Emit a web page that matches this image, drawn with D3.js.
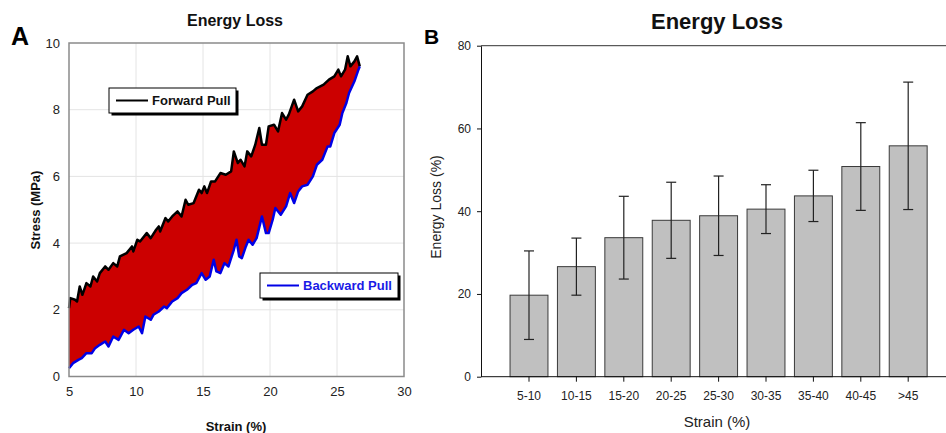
<!DOCTYPE html>
<html><head><meta charset="utf-8">
<script src="https://cdn.jsdelivr.net/npm/d3@7"></script>
<style>
html,body{margin:0;padding:0;background:#fff;}
svg{display:block;font-family:"Liberation Sans",Arial,sans-serif;}
</style></head>
<body>
<svg id="chart" width="946" height="433"></svg>
<script>
// ---------- Panel A data (strain %, stress MPa) ----------
const forwardStrain = [5.0,5.1,5.45,5.6,5.8,6.0,6.3,6.6,6.8,7.1,7.3,7.7,7.95,8.3,8.6,8.8,9.3,9.7,9.8,10.1,10.3,10.8,11.1,11.5,11.7,11.8,12.2,12.4,12.7,13.1,13.4,13.7,13.9,14.3,14.7,14.9,15.1,15.3,15.6,15.9,16.3,16.7,17.1,17.3,17.6,17.8,18.1,18.3,18.6,18.9,19.2,19.4,19.7,19.9,20.3,20.6,20.9,21.2,21.4,21.8,22.1,22.4,22.8,23.2,23.5,24.0,24.4,24.8,25.1,25.3,25.6,25.8,26.0,26.3,26.5,26.7];
const forwardStress = [2.05,2.35,2.3,2.25,2.7,2.45,2.8,2.7,3.0,2.85,3.1,3.3,3.2,3.4,3.3,3.6,3.7,3.9,3.75,4.1,4.05,4.3,4.15,4.4,4.5,4.35,4.75,4.65,4.8,4.95,4.8,5.3,5.15,5.2,5.6,5.5,5.7,5.5,5.85,5.85,6.1,6.05,6.15,6.75,6.4,6.5,6.3,6.75,6.6,6.95,7.45,6.95,6.95,7.5,7.55,7.35,7.9,7.7,7.85,8.3,7.95,8.1,8.45,8.55,8.65,8.75,8.9,9.0,9.2,9.0,9.2,9.6,9.3,9.45,9.6,9.3];
const backwardStrain = [5.0,5.3,5.7,5.95,6.3,6.7,6.95,7.3,7.7,7.95,8.3,8.7,9.1,9.45,9.8,10.2,10.45,10.7,11.1,11.3,11.7,12.1,12.3,12.7,13.1,13.4,13.8,14.2,14.5,14.9,15.2,15.5,15.8,16.0,16.3,16.6,16.9,17.3,17.5,17.7,17.9,18.2,18.4,18.7,19.0,19.4,19.7,19.9,20.2,20.4,20.8,21.2,21.5,21.8,22.1,22.4,22.8,23.2,23.5,23.9,24.3,24.5,24.8,25.2,25.4,25.7,25.9,26.3,26.6,26.7];
const backwardStress = [0.25,0.4,0.5,0.55,0.7,0.7,0.85,0.95,1.05,0.9,1.2,1.1,1.4,1.3,1.4,1.5,1.3,1.8,1.7,1.85,1.95,2.1,2.05,2.25,2.35,2.5,2.6,2.75,2.8,3.1,2.9,3.0,3.5,3.15,3.1,3.4,3.3,3.8,4.1,3.6,3.55,3.9,4.1,3.95,4.15,4.8,4.3,4.3,4.7,5.05,4.85,5.1,5.5,5.2,5.55,5.7,5.75,6.0,6.35,6.5,6.9,6.9,7.3,7.55,7.9,8.2,8.5,8.85,9.2,9.3];
const xTicksA = [5,10,15,20,25,30];
const yTicksA = [0,2,4,6,8,10];

// ---------- Panel B data ----------
const categories = ["5-10","10-15","15-20","20-25","25-30","30-35","35-40","40-45",">45"];
const energyLoss = [19.7,26.6,33.6,37.8,38.9,40.5,43.7,50.8,55.8];
const energyLossSD = [10.7,6.9,10.0,9.2,9.6,5.9,6.2,10.6,15.4];
const yTicksB = [0,20,40,60,80];

const svg = d3.select("#chart");

// ================= Panel A =================
const xA = d3.scaleLinear().domain([5,30]).range([69,404]);
const yA = d3.scaleLinear().domain([0,10]).range([376.5,43]);
const gA = svg.append("g");

// gridlines
gA.append("g").selectAll("line.gx").data(xTicksA.slice(1,-1)).join("line")
  .attr("x1",d=>xA(d)).attr("x2",d=>xA(d)).attr("y1",yA(10)).attr("y2",yA(0))
  .attr("stroke","#e4e4e4").attr("stroke-width",1);
gA.append("g").selectAll("line.gy").data(yTicksA.slice(1,-1)).join("line")
  .attr("y1",d=>yA(d)).attr("y2",d=>yA(d)).attr("x1",xA(5)).attr("x2",xA(30))
  .attr("stroke","#e4e4e4").attr("stroke-width",1);

// area fill between curves
const fwdPts = forwardStrain.map((s,i)=>[xA(s),yA(forwardStress[i])]);
const bwdPts = backwardStrain.map((s,i)=>[xA(s),yA(backwardStress[i])]);
const poly = fwdPts.concat(bwdPts.slice().reverse());
gA.append("path").attr("d", d3.line()(poly)+"Z").attr("fill","#cc0000").attr("stroke","none");
gA.append("path").attr("d", d3.line()(fwdPts)).attr("fill","none").attr("stroke","#000").attr("stroke-width",2.5).attr("stroke-linejoin","round");
gA.append("path").attr("d", d3.line()(bwdPts)).attr("fill","none").attr("stroke","#0000e6").attr("stroke-width",2.5).attr("stroke-linejoin","round");

// plot frame
gA.append("rect").attr("x",xA(5)).attr("y",yA(10)).attr("width",xA(30)-xA(5)).attr("height",yA(0)-yA(10))
  .attr("fill","none").attr("stroke","#8a8a8a").attr("stroke-width",1.5);

// axes
const axA_x = gA.append("g").attr("transform",`translate(0,${yA(0)})`)
  .call(d3.axisBottom(xA).tickValues(xTicksA).tickSize(0).tickPadding(10));
axA_x.select(".domain").remove();
axA_x.selectAll("text").attr("font-size",13).attr("fill","#222").attr("font-family","Liberation Sans, Arial, sans-serif");
const axA_y = gA.append("g").attr("transform",`translate(${xA(5)},0)`)
  .call(d3.axisLeft(yA).tickValues(yTicksA).tickSize(0).tickPadding(9));
axA_y.select(".domain").remove();
axA_y.selectAll("text").attr("font-size",13).attr("fill","#222").attr("font-family","Liberation Sans, Arial, sans-serif");

// labels
gA.append("text").attr("x",235).attr("y",26).attr("text-anchor","middle").attr("font-weight","bold").attr("font-size",16).attr("fill","#111").text("Energy Loss");
gA.append("text").attr("x",11).attr("y",45).attr("font-weight","bold").attr("font-size",25).attr("fill","#000").text("A");
gA.append("text").attr("transform","translate(40,210) rotate(-90)").attr("text-anchor","middle").attr("font-weight","bold").attr("font-size",13).attr("fill","#111").text("Stress (MPa)");
gA.append("text").attr("x",236).attr("y",431).attr("text-anchor","middle").attr("font-weight","bold").attr("font-size",13).attr("fill","#111").text("Strain (%)");

// legends
function legend(x,y,w,h,color,label,textColor){
  const g = gA.append("g");
  g.append("rect").attr("x",x+2.5).attr("y",y+2.5).attr("width",w).attr("height",h).attr("fill","#000");
  g.append("rect").attr("x",x).attr("y",y).attr("width",w).attr("height",h).attr("fill","#fff").attr("stroke","#000").attr("stroke-width",1);
  g.append("line").attr("x1",x+7).attr("x2",x+39).attr("y1",y+h/2).attr("y2",y+h/2).attr("stroke",color).attr("stroke-width",2);
  g.append("text").attr("x",x+43).attr("y",y+h/2+4.5).attr("font-weight","bold").attr("font-size",13).attr("fill",textColor).text(label);
}
legend(109,88,127,25,"#000","Forward Pull","#111");
legend(260,273,138,25,"#0000e6","Backward Pull","#1a1ae6");

// ================= Panel B =================
const xB = d3.scaleBand().domain(categories).range([505.3,931.9]).paddingInner(0.2).paddingOuter(0.1);
const yB = d3.scaleLinear().domain([0,80]).range([376.7,45.7]);
const gB = svg.append("g");

// bars
gB.append("g").selectAll("rect").data(categories).join("rect")
  .attr("x",d=>xB(d)).attr("width",xB.bandwidth())
  .attr("y",(d,i)=>yB(energyLoss[i])).attr("height",(d,i)=>yB(0)-yB(energyLoss[i]))
  .attr("fill","#c0c0c0").attr("stroke","#3a3a3a").attr("stroke-width",1);

// error bars
const eb = gB.append("g").attr("stroke","#222").attr("stroke-width",1.2);
categories.forEach((c,i)=>{
  const cx = xB(c)+xB.bandwidth()/2;
  const hi = yB(energyLoss[i]+energyLossSD[i]);
  const lo = yB(energyLoss[i]-energyLossSD[i]);
  eb.append("line").attr("x1",cx).attr("x2",cx).attr("y1",hi).attr("y2",lo);
  eb.append("line").attr("x1",cx-5).attr("x2",cx+5).attr("y1",hi).attr("y2",hi);
  eb.append("line").attr("x1",cx-5).attr("x2",cx+5).attr("y1",lo).attr("y2",lo);
});

// axes
const axB_y = gB.append("g").attr("transform","translate(481,0)")
  .call(d3.axisLeft(yB).tickValues(yTicksB).tickSize(4).tickSizeOuter(0).tickPadding(6));
axB_y.selectAll("text").attr("font-size",12).attr("fill","#222").attr("font-family","Liberation Sans, Arial, sans-serif");
axB_y.selectAll("line,path").attr("stroke","#111");
const axB_x = gB.append("g").attr("transform",`translate(0,${yB(0)})`)
  .call(d3.axisBottom(xB).tickSize(5).tickSizeOuter(0).tickPadding(10));
axB_x.select(".domain").attr("d","M481,0H946");
axB_x.selectAll("text").attr("font-size",12).attr("fill","#222").attr("font-family","Liberation Sans, Arial, sans-serif");
axB_x.selectAll("line,path").attr("stroke","#111");
// top frame line
gB.append("line").attr("x1",481).attr("x2",946).attr("y1",yB(80)).attr("y2",yB(80)).attr("stroke","#333").attr("stroke-width",1);

gB.append("text").attr("x",717).attr("y",29).attr("text-anchor","middle").attr("font-weight","bold").attr("font-size",22).attr("fill","#111").text("Energy Loss");
gB.append("text").attr("x",424).attr("y",44).attr("font-weight","bold").attr("font-size",21).attr("fill","#000").text("B");
gB.append("text").attr("transform","translate(441,207) rotate(-90)").attr("text-anchor","middle").attr("font-size",14).attr("fill","#222").text("Energy Loss (%)");
gB.append("text").attr("x",717).attr("y",427).attr("text-anchor","middle").attr("font-size",15).attr("fill","#222").text("Strain (%)");
</script>
</body></html>
